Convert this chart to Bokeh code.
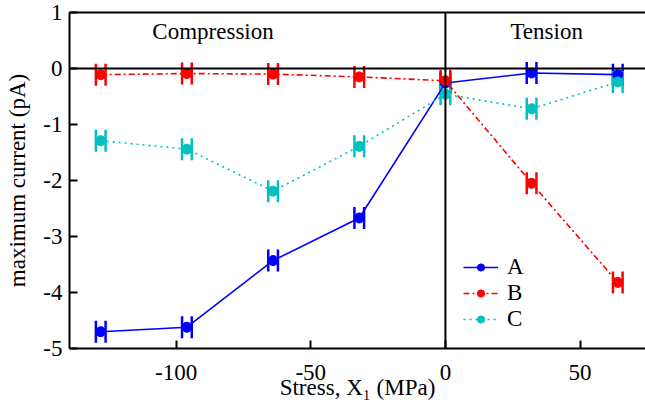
from bokeh.plotting import figure
from bokeh.models import (Range1d, Whisker, TeeHead, ColumnDataSource, Span, Label,
                          Legend, LegendItem, LinearAxis, FixedTicker)
from bokeh.embed import file_html
from bokeh.resources import INLINE

# ---- data ----
stress = [-128, -96, -64, -32, 0, 32, 64]
series_names = ["A", "B", "C"]
current_A = [-4.70, -4.62, -3.43, -2.67, -0.26, -0.08, -0.11]
current_B = [-0.11, -0.09, -0.10, -0.15, -0.22, -2.05, -3.82]
current_C = [-1.29, -1.44, -2.19, -1.39, -0.46, -0.72, -0.24]
stress_err = [1.8, 1.8, 1.8, 1.8, 1.8, 1.8, 1.8]
x_ticks = [-100, -50, 0, 50]
x_tick_labels = ["-100", "-50", "0", "50"]
y_ticks = [1, 0, -1, -2, -3, -4, -5]
y_tick_labels = ["1", "0", "-1", "-2", "-3", "-4", "-5"]
region_labels = ["Compression", "Tension"]
region_label_x = [-86.3, 37.6]
region_label_y = [0.66, 0.66]

FONT = "Liberation Serif"
FS = "23px"

p = figure(width=645, height=409, output_backend="svg", toolbar_location=None,
           x_range=Range1d(-139.6, 74.3), y_range=Range1d(-5, 1),
           min_border_left=69, min_border_right=0, min_border_top=12, min_border_bottom=61)
p.outline_line_color = None
p.xgrid.visible = False
p.ygrid.visible = False
p.background_fill_color = "white"

for ax in (p.xaxis[0], p.yaxis[0]):
    ax.axis_line_width = 2
    ax.axis_line_color = "black"
    ax.major_tick_in = 8
    ax.major_tick_out = 0
    ax.major_tick_line_width = 2
    ax.minor_tick_in = 0
    ax.minor_tick_out = 0
    ax.major_label_text_font = FONT
    ax.major_label_text_font_size = FS
    ax.major_label_text_color = "black"
    ax.axis_label_text_font = FONT
    ax.axis_label_text_font_size = FS
    ax.axis_label_text_font_style = "normal"
    ax.axis_label_text_color = "black"

p.xaxis[0].ticker = FixedTicker(ticks=x_ticks)
p.xaxis[0].major_label_overrides = dict(zip(x_ticks, x_tick_labels))
p.xaxis[0].axis_label = "Stress, X\u2081 (MPa)"
p.xaxis[0].major_label_standoff = 16
p.xaxis[0].axis_label_standoff = -8

p.yaxis[0].ticker = FixedTicker(ticks=y_ticks)
p.yaxis[0].major_label_overrides = dict(zip(y_ticks, y_tick_labels))
p.yaxis[0].axis_label = "maximum current (pA)"
p.yaxis[0].major_label_standoff = 7
p.yaxis[0].axis_label_standoff = 10

top = LinearAxis(ticker=FixedTicker(ticks=[]), axis_line_width=2, axis_line_color="black",
                 major_tick_in=0, major_tick_out=0, minor_tick_in=0, minor_tick_out=0,
                 major_label_standoff=0, major_label_text_font_size="0px")
p.add_layout(top, "above")

p.add_layout(Span(location=0, dimension="width", line_color="black", line_width=2))
p.add_layout(Span(location=0, dimension="height", line_color="black", line_width=2))

colors = ["#0000ff", "#ff0000", "#00c0c0"]
dashes = ["solid", "6 3 2 3", "2 4"]
values = [current_A, current_B, current_C]

items = []
for name, vals, col, dash in zip(series_names, values, colors, dashes):
    src = ColumnDataSource(dict(
        x=stress, y=vals,
        lo=[s - e for s, e in zip(stress, stress_err)],
        hi=[s + e for s, e in zip(stress, stress_err)],
    ))
    ln = p.line("x", "y", source=src, line_color=col, line_width=1.6, line_dash=dash)
    w = Whisker(source=src, base="y", lower="lo", upper="hi", dimension="width",
                line_color=col, line_width=1.5,
                lower_head=TeeHead(size=22, line_color=col, line_width=2.5),
                upper_head=TeeHead(size=22, line_color=col, line_width=2.5))
    p.add_layout(w)
    sc = p.scatter("x", "y", source=src, marker="circle", size=10,
                   fill_color=col, line_color=col)
    items.append(LegendItem(label=name, renderers=[ln, sc]))

for txt, lx, ly in zip(region_labels, region_label_x, region_label_y):
    p.add_layout(Label(x=lx, y=ly, text=txt, text_align="center", text_baseline="middle",
                       text_font=FONT, text_font_size=FS, text_color="black"))

legend = Legend(items=items, location=(394, 16), orientation="vertical",
                glyph_width=35, glyph_height=18, label_height=18, spacing=-3,
                label_standoff=9, padding=0, margin=0,
                label_text_font=FONT, label_text_font_size=FS, label_text_color="black",
                border_line_color=None, background_fill_alpha=0)
p.add_layout(legend, "center")

open("out.html", "w").write(file_html(p, INLINE))
